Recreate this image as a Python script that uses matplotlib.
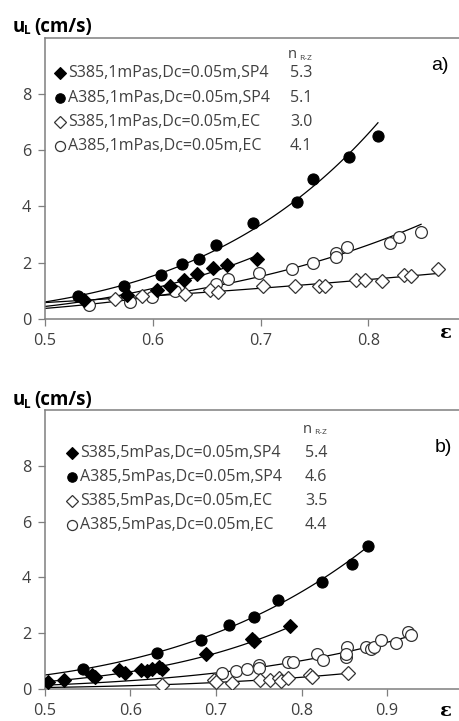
import matplotlib

matplotlib.use("Agg")
import matplotlib.pyplot as plt
import numpy as np

# --- 1 mPas series (panel a) ---
s_sp4_1_x = [0.536, 0.576, 0.604, 0.616, 0.629, 0.641, 0.656, 0.669, 0.697]
s_sp4_1_y = [0.67, 0.84, 1.02, 1.19, 1.37, 1.60, 1.81, 1.93, 2.13]
a_sp4_1_x = [0.531, 0.573, 0.608, 0.627, 0.643, 0.659, 0.693, 0.734, 0.749, 0.782, 0.809]
a_sp4_1_y = [0.81, 1.18, 1.58, 1.95, 2.13, 2.63, 3.40, 4.17, 4.99, 5.75, 6.51]
s_ec_1_x = [0.565, 0.590, 0.630, 0.653, 0.661, 0.702, 0.732, 0.754, 0.760, 0.789, 0.797,
            0.813, 0.833, 0.840, 0.865]
s_ec_1_y = [0.72, 0.81, 0.90, 1.02, 0.96, 1.19, 1.19, 1.16, 1.16, 1.37, 1.37,
            1.35, 1.57, 1.54, 1.78]
a_ec_1_x = [0.541, 0.579, 0.599, 0.621, 0.659, 0.670, 0.699, 0.729, 0.749, 0.770, 0.770,
            0.780, 0.820, 0.829, 0.849]
a_ec_1_y = [0.49, 0.61, 0.78, 0.99, 1.25, 1.43, 1.62, 1.78, 1.98, 2.36, 2.21,
            2.56, 2.71, 2.91, 3.09]

# --- 5 mPas series (panel b) ---
s_sp4_5_x = [0.503, 0.522, 0.555, 0.558, 0.587, 0.593, 0.612, 0.619, 0.625, 0.633, 0.637,
             0.688, 0.742, 0.745, 0.787]
s_sp4_5_y = [0.26, 0.32, 0.50, 0.42, 0.68, 0.56, 0.68, 0.65, 0.70, 0.80, 0.70,
             1.25, 1.78, 1.72, 2.27]
a_sp4_5_x = [0.544, 0.631, 0.682, 0.715, 0.744, 0.773, 0.824, 0.859, 0.878]
a_sp4_5_y = [0.70, 1.30, 1.77, 2.29, 2.58, 3.20, 3.83, 4.49, 5.14]
s_ec_5_x = [0.637, 0.698, 0.700, 0.719, 0.752, 0.763, 0.774, 0.776, 0.784, 0.810, 0.812, 0.854]
s_ec_5_y = [0.14, 0.32, 0.25, 0.22, 0.32, 0.32, 0.38, 0.30, 0.38, 0.50, 0.44, 0.58]
a_ec_5_x = [0.707, 0.723, 0.736, 0.750, 0.750, 0.784, 0.790, 0.818, 0.825, 0.852, 0.853,
            0.852, 0.876, 0.881, 0.885, 0.893, 0.910, 0.924, 0.928]
a_ec_5_y = [0.58, 0.65, 0.70, 0.86, 0.74, 0.98, 0.98, 1.27, 1.04, 1.13, 1.49,
            1.27, 1.49, 1.42, 1.49, 1.75, 1.65, 2.05, 1.93]

labels_1 = ["S385,1mPas,Dc=0.05m,SP4", "A385,1mPas,Dc=0.05m,SP4",
            "S385,1mPas,Dc=0.05m,EC", "A385,1mPas,Dc=0.05m,EC"]
labels_5 = ["S385,5mPas,Dc=0.05m,SP4", "A385,5mPas,Dc=0.05m,SP4",
            "S385,5mPas,Dc=0.05m,EC", "A385,5mPas,Dc=0.05m,EC"]
n_rz_1 = ["5.3", "5.1", "3.0", "4.1"]
n_rz_5 = ["5.4", "4.6", "3.5", "4.4"]
xticks_a = [0.5, 0.6, 0.7, 0.8]
xticks_b = [0.5, 0.6, 0.7, 0.8, 0.9]
yticks = [0, 2, 4, 6, 8]

W, H = 459, 721
FONT = "Open Sans"
GREY = "#7f7f7f"
TXT = "#404040"
STYLES = [dict(marker="D", ms=7, mfc="black", mec="black", mew=0.8),
          dict(marker="o", ms=8, mfc="black", mec="black", mew=0.8),
          dict(marker="D", ms=7.5, mfc="white", mec="#333333", mew=0.9),
          dict(marker="o", ms=8.5, mfc="white", mec="#333333", mew=0.9)]


def px(x, y):
    return x / W, 1 - y / H


def power_fit(x, y):
    # power-law trendline u = a * eps^n, least squares in log-log
    n, loga = np.polyfit(np.log(x), np.log(y), 1)
    xs = np.linspace(0.5, max(x), 100)
    return xs, np.exp(loga) * xs ** n


def panel(ax, series, xlim, xticks):
    for x, y in series:
        xs, ys = power_fit(np.array(x), np.array(y))
        ax.plot(xs, ys, color="black", lw=0.9, zorder=2)
    for (x, y), st in zip(series[::-1], STYLES[::-1]):
        ax.plot(x, y, ls="none", zorder=3, **st)
    ax.set_xlim(*xlim)
    ax.set_ylim(0, 10)
    ax.set_xticks(xticks)
    ax.set_xticklabels([f"{t:.1f}" for t in xticks])
    ax.set_yticks(yticks)
    ax.spines["right"].set_visible(False)
    for s in ("left", "bottom", "top"):
        ax.spines[s].set_color(GREY)
        ax.spines[s].set_linewidth(1.1)
    ax.tick_params(direction="out", length=5, width=0.9, color=GREY, labelcolor=TXT,
                   labelsize=11.7, pad=5)
    for lab in ax.get_xticklabels() + ax.get_yticklabels():
        lab.set_family(FONT)


def legend_block(labels, nvals, mx, tx, nx, rows, head_y, tag, tag_xy):
    for lab, nv, y, st in zip(labels, nvals, rows, STYLES):
        fig.lines.append(plt.Line2D([mx / W], [1 - y / H], transform=fig.transFigure,
                                    ls="none", **{**st, "ms": st["ms"] * 0.85}))
        fig.text(*px(tx, y), lab, family=FONT, fontsize=11.5, color=TXT, va="center")
        fig.text(*px(nx, y), nv, family=FONT, fontsize=11.5, color=TXT, va="center")
    fig.text(*px(nx - 2, head_y), "n", family=FONT, fontsize=10.5, color=TXT, va="center")
    fig.text(*px(nx + 9, head_y + 3), "R-Z", family=FONT, fontsize=6, color=TXT, va="center")
    fig.text(*px(*tag_xy), tag, family="Liberation Sans", fontsize=14, color="black",
             va="center", ha="center")


def y_label(base_y):
    fig.text(*px(12.5, base_y), "u", family=FONT, fontsize=13.5, weight="bold", va="baseline")
    fig.text(*px(24, base_y + 2.5), "L", family=FONT, fontsize=8.5, weight="bold", va="baseline")
    fig.text(*px(34, base_y), "(cm/s)", family=FONT, fontsize=13.5, weight="bold", va="baseline")


fig = plt.figure(figsize=(W / 100, H / 100), dpi=100)

ax_a = fig.add_axes([45 / W, (H - 319) / H, 431 / W, (319 - 37.7) / H])
panel(ax_a, [(s_sp4_1_x, s_sp4_1_y), (a_sp4_1_x, a_sp4_1_y),
             (s_ec_1_x, s_ec_1_y), (a_ec_1_x, a_ec_1_y)],
      (0.5, 0.9), xticks_a)

ax_b = fig.add_axes([45 / W, (H - 689) / H, 427.5 / W, (689 - 410) / H])
panel(ax_b, [(s_sp4_5_x, s_sp4_5_y), (a_sp4_5_x, a_sp4_5_y),
             (s_ec_5_x, s_ec_5_y), (a_ec_5_x, a_ec_5_y)],
      (0.5, 1.0), xticks_b)

legend_block(labels_1, n_rz_1, 60, 68, 290, [72.7, 97.7, 122, 146], 55, "a)", (440, 65))
legend_block(labels_5, n_rz_5, 72, 80, 305, [452.7, 476.7, 500.7, 525], 430, "b)", (443, 448))

y_label(32)
y_label(405)
fig.text(*px(446, 333), "ε", family="DejaVu Serif", fontsize=14, weight="bold",
         ha="center", va="center")
fig.text(*px(446, 711), "ε", family="DejaVu Serif", fontsize=14, weight="bold",
         ha="center", va="center")

fig.savefig("out.png", dpi=100)
